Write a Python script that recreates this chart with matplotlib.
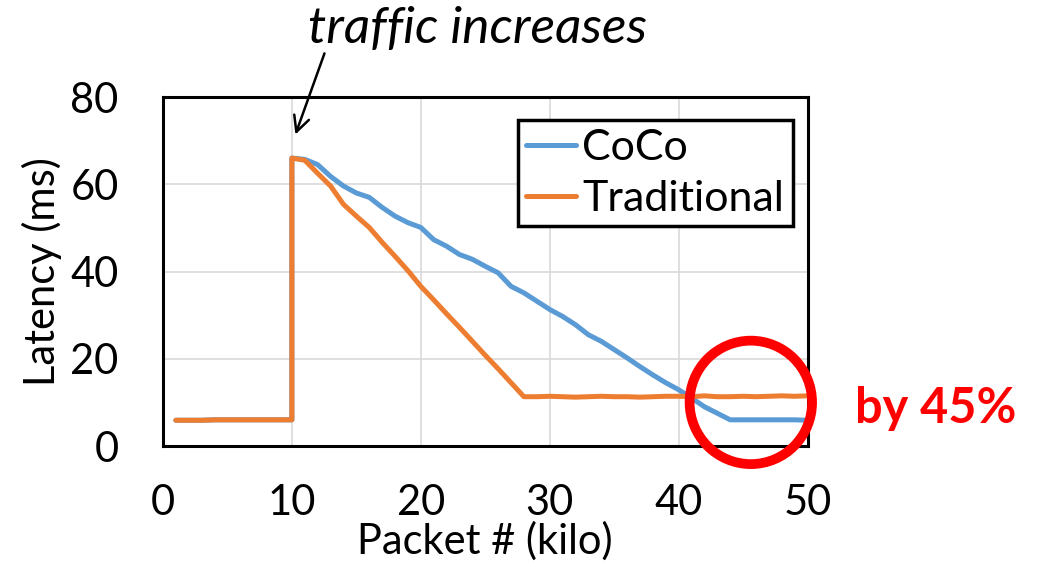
import matplotlib
matplotlib.use("Agg")
import matplotlib.pyplot as plt
from matplotlib.patches import Ellipse

plt.rcParams['font.family'] = ['Lato', 'DejaVu Sans']

# packet number (kilo); x=10 appears twice for the vertical jump
packet_k = [1, 2, 3, 4, 5, 6, 7, 8, 9, 10,
            10, 11, 12, 13, 14, 15, 16, 17, 18, 19, 20,
            21, 22, 23, 24, 25, 26, 27, 28, 29, 30,
            31, 32, 33, 34, 35, 36, 37, 38, 39, 40,
            41, 42, 43, 44, 45, 46, 47, 48, 49, 50]

coco_ms = [5.9, 5.9, 5.9, 6.0, 6.0, 6.0, 6.0, 6.0, 6.0, 6.0,
           66.0, 65.7, 64.5, 61.8, 59.6, 58.0, 57.0, 54.7, 52.7, 51.2, 50.1,
           47.3, 45.8, 43.9, 42.8, 41.2, 39.7, 36.6, 35.1, 33.2, 31.3,
           29.7, 27.8, 25.5, 24.0, 22.1, 20.2, 18.2, 16.3, 14.5, 12.9,
           11.0, 9.0, 7.5, 6.0, 6.0, 6.0, 6.0, 6.0, 6.0, 5.9]

trad_ms = [5.9, 5.9, 5.9, 6.0, 6.0, 6.0, 6.0, 6.0, 6.0, 6.0,
           66.0, 65.5, 62.5, 59.6, 55.4, 52.7, 50.1, 46.7, 43.5, 40.2, 36.6,
           33.5, 30.3, 27.2, 24.0, 20.8, 17.7, 14.5, 11.3, 11.3, 11.4,
           11.3, 11.2, 11.3, 11.4, 11.3, 11.3, 11.2, 11.3, 11.4, 11.4,
           11.3, 11.5, 11.3, 11.3, 11.4, 11.3, 11.4, 11.5, 11.4, 11.5]

x_ticks = [0, 10, 20, 30, 40, 50]
y_ticks = [0, 20, 40, 60, 80]

fig = plt.figure(figsize=(10.38, 5.67), dpi=100)
ax = fig.add_axes([0.157, 0.2134, 0.621, 0.6155])

ax.plot(packet_k, coco_ms, color='#5B9BD5', lw=3.6, label='CoCo', solid_capstyle='round')
ax.plot(packet_k, trad_ms, color='#ED7D31', lw=3.6, label='Traditional', solid_capstyle='round')

ax.set_xlim(0, 50)
ax.set_ylim(0, 80)
ax.set_xticks(x_ticks)
ax.set_yticks(y_ticks)
ax.grid(True, color='#d9d9d9', lw=1.2)
ax.set_axisbelow(True)
ax.tick_params(length=0, labelsize=30)
ax.tick_params(axis='x', pad=27)
ax.tick_params(axis='y', pad=32)
for s in ax.spines.values():
    s.set_color('black')
    s.set_linewidth(2.2)

ax.set_xlabel('Packet # (kilo)', fontsize=30, va='top')
ax.xaxis.set_label_coords(0.5, -0.215)
ax.set_ylabel('Latency (ms)', fontsize=30)
ax.yaxis.set_label_coords(-0.157, 0.5)

leg = ax.legend(loc='upper right', bbox_to_anchor=(0.977, 0.934), borderaxespad=0,
                fontsize=31, handlelength=1.15, handletextpad=0.15, labelspacing=0.3,
                borderpad=0.2, fancybox=False, framealpha=1)
leg.get_frame().set_edgecolor('black')
leg.get_frame().set_linewidth(2.5)

# annotation
ax.text(24.4, 95.5, 'traffic increases', fontsize=37, style='italic',
        ha='center', va='center', clip_on=False)
ax.annotate('', xy=(10.2, 70.8), xytext=(12.6, 90.6),
            arrowprops=dict(arrowstyle='->', lw=1.8, color='black', mutation_scale=28),
            annotation_clip=False)

ax.add_patch(Ellipse((45.6, 10.0), 9.5, 28.3, fill=False, edgecolor='#FF0000',
                     lw=7, clip_on=False, zorder=5))
ax.text(59.9, 8.7, 'by 45%', fontsize=35, fontweight='bold', color='#FF0000',
        ha='center', va='center', clip_on=False)

fig.savefig('out.png', dpi=100)
